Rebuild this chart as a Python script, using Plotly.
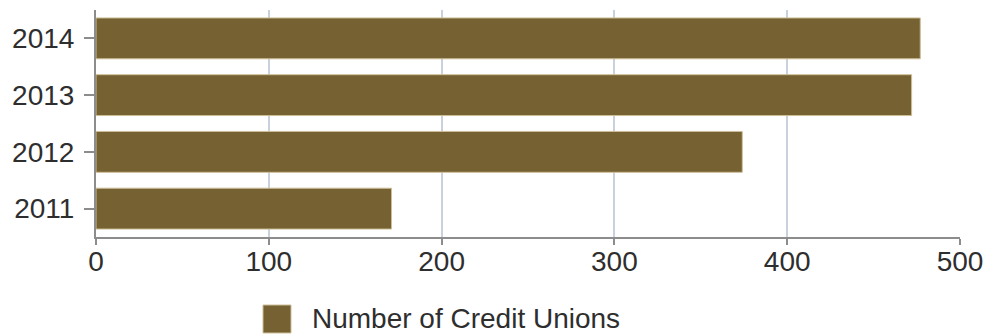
import plotly.graph_objects as go

# Credit unions counted per year
years = ["2011", "2012", "2013", "2014"]
credit_unions = [171, 374, 472, 477]
x_ticks = [0, 100, 200, 300, 400, 500]
series_name = "Number of Credit Unions"

BAR_COLOR = "#766132"
AXIS_COLOR = "#8c8c8c"
GRID_COLOR = "#c9d2dc"
TEXT_COLOR = "#2e2e2e"
FONT = "Liberation Sans, Arial, sans-serif"
FONT_SIZE = 28

fig = go.Figure(
    go.Bar(
        y=years,
        x=credit_unions,
        orientation="h",
        name=series_name,
        marker=dict(color=BAR_COLOR, line=dict(color="#cdbf98", width=1)),
        showlegend=False,
    )
)

fig.update_layout(
    width=985,
    height=335,
    margin=dict(l=96, r=25, t=10, b=98, autoexpand=False),
    paper_bgcolor="white",
    plot_bgcolor="white",
    bargap=0.28,
    font=dict(family=FONT, size=FONT_SIZE, color=TEXT_COLOR),
)

fig.update_xaxes(
    range=[0, 500],
    tickvals=x_ticks,
    automargin=False,
    showgrid=True,
    gridcolor=GRID_COLOR,
    gridwidth=2,
    zeroline=False,
    showline=True,
    linecolor=AXIS_COLOR,
    linewidth=2,
    ticks="outside",
    ticklen=6,
    tickwidth=2,
    tickcolor=AXIS_COLOR,
    ticklabelstandoff=-8,
    tickfont=dict(size=FONT_SIZE, color=TEXT_COLOR),
)

fig.update_yaxes(
    categoryorder="array",
    categoryarray=years,
    range=[-0.5, 3.5],
    automargin=False,
    showgrid=False,
    zeroline=False,
    showline=True,
    linecolor=AXIS_COLOR,
    linewidth=2,
    ticks="outside",
    ticklen=10,
    tickwidth=2,
    tickcolor=AXIS_COLOR,
    ticklabelstandoff=4,
    tickfont=dict(size=FONT_SIZE, color=TEXT_COLOR),
)

# Legend swatch and label below the plot
fig.add_shape(
    type="rect",
    xref="paper", yref="paper",
    x0=0.1933, x1=0.2257, y0=-0.4229, y1=-0.2996,
    fillcolor=BAR_COLOR,
    line=dict(color="#cdbf98", width=1),
)
fig.add_annotation(
    xref="paper", yref="paper",
    x=0.2477, y=-0.3612,
    xanchor="left", yanchor="middle",
    text=series_name,
    showarrow=False,
    font=dict(family=FONT, size=FONT_SIZE, color=TEXT_COLOR),
)

fig.write_html("out.html")
